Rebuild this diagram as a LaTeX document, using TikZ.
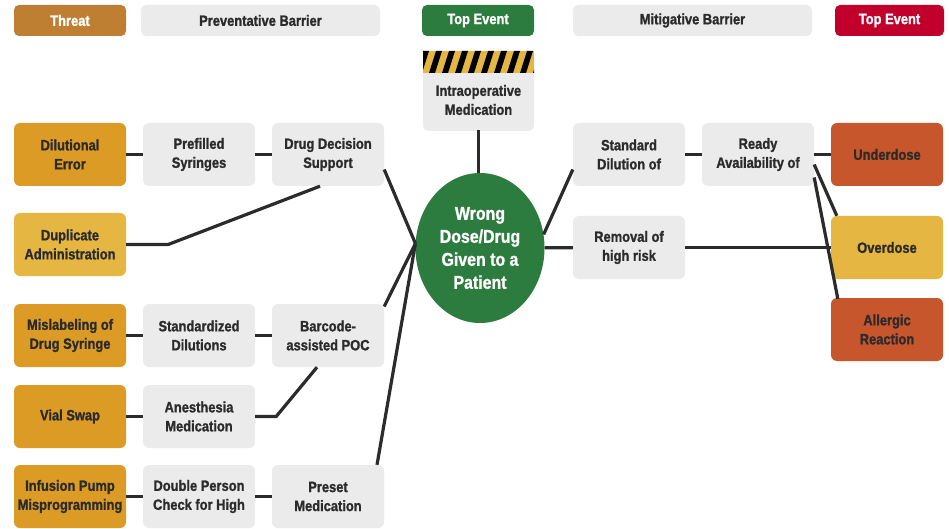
\documentclass[tikz,border=0pt]{standalone}
\usepackage{fontspec}
\setmainfont{Liberation Sans}[FakeStretch=0.86, BoldFeatures={FakeBold=1.2}]
\usetikzlibrary{shapes.geometric,calc}
\definecolor{txt}{HTML}{2B2B2B}
\definecolor{gbox}{HTML}{EBEBEB}
\definecolor{thro}{HTML}{DB9B25}
\definecolor{thry}{HTML}{E5B742}
\definecolor{hthreat}{HTML}{BF7F33}
\definecolor{tgreen}{HTML}{2D7C3F}
\definecolor{hred}{HTML}{C1002B}
\definecolor{outr}{HTML}{C8562C}
\definecolor{stripey}{HTML}{E6B645}
\definecolor{lnc}{HTML}{2B2B2B}
\tikzset{
  boxbase/.style={rectangle, rounded corners=6pt, minimum width=112pt, minimum height=63pt,
    inner sep=0pt, align=center, font=\bfseries\fontsize{15}{19}\selectfont, text=txt},
  barrierbox/.style={boxbase, fill=gbox},
  threatbox/.style={boxbase, fill=thro},
  threatyel/.style={boxbase, fill=thry},
  outbox/.style={boxbase, fill=outr},
  hdrbox/.style={rectangle, rounded corners=5pt, minimum height=31pt, inner sep=0pt,
    font=\bfseries\fontsize{15}{17}\selectfont},
  conn/.style={draw=lnc, line width=3.2pt}
}
\begin{document}
\begin{tikzpicture}[x=1pt,y=-1pt]
\useasboundingbox (0,0) rectangle (949,529);
% header
\node[hdrbox, fill=hthreat, text=white, minimum width=112pt] (hT) at (70,20.5) {Threat};
\node[hdrbox, fill=gbox, text=txt, minimum width=239pt] (hP) at (260.5,20.5) {Preventative Barrier};
\node[hdrbox, fill=tgreen, text=white, minimum width=112pt] (hE) at (478,20.5) {Top Event};
\node[hdrbox, fill=gbox, text=txt, minimum width=239pt] (hM) at (692.5,20.5) {Mitigative Barrier};
\node[hdrbox, fill=hred, text=white, minimum width=109pt] (hR) at (889.5,20.5) {Top Event};
% threats
\node[threatbox] (dil) at (70,154.5) {Dilutional\\Error};
\node[threatyel] (dup) at (70,244.5) {Duplicate\\Administration};
\node[threatbox] (mis) at (70,335.5) {Mislabeling of\\Drug Syringe};
\node[threatbox] (vial) at (70,416.5) {Vial Swap};
\node[threatbox] (inf) at (70,496.5) {Infusion Pump\\Misprogramming};
% preventative barriers
\node[barrierbox] (pref) at (199,154.5) {Prefilled\\Syringes};
\node[barrierbox] (dds) at (328,154.5) {Drug Decision\\Support};
\node[barrierbox] (std) at (199,335.5) {Standardized\\Dilutions};
\node[barrierbox] (bar) at (328,335.5) {Barcode-\\assisted POC};
\node[barrierbox] (anes) at (199,416.5) {Anesthesia\\Medication};
\node[barrierbox] (dbl) at (199,496.5) {Double Person\\Check for High};
\node[barrierbox] (pre) at (328,496.5) {Preset\\Medication};
% intraoperative hazard box
\fill[gbox, rounded corners=6pt] (423,51) rectangle (534,131);
\begin{scope}
  \clip (423,51) rectangle (534,73);
  \fill[stripey] (423,51) rectangle (534,73);
  \foreach \i in {0,...,9} {
    \fill[black] (416+13*\i,73) -- (422+13*\i,73) -- (429+13*\i,51) -- (423+13*\i,51) -- cycle;
  }
\end{scope}
\node[inner sep=0pt, align=center, font=\bfseries\fontsize{15}{19}\selectfont, text=txt,
  minimum width=111pt, minimum height=60pt] (intra) at (478.5,100) {Intraoperative\\Medication};
% top event
\node[ellipse, fill=tgreen, minimum width=129pt, minimum height=150pt, inner sep=0pt,
  text=white, align=center, font=\bfseries\fontsize{18.5}{23}\selectfont] (top) at (480,248)
  {Wrong\\Dose/Drug\\Given to a\\Patient};
% mitigative barriers
\node[barrierbox] (sdil) at (629,154.5) {Standard\\Dilution of};
\node[barrierbox] (rav) at (758,154.5) {Ready\\Availability of};
\node[barrierbox] (rem) at (629,247.5) {Removal of\\high risk};
% outcomes
\node[outbox] (under) at (887,154.5) {Underdose};
\node[threatyel] (over) at (887,247.5) {Overdose};
\node[outbox] (allg) at (887,329.5) {Allergic\\Reaction};
% connectors
\coordinate (hubL) at (top.176);
\draw[conn] (dil) -- (pref);
\draw[conn] (pref) -- (dds);
\draw[conn] ($(dds.east)+(0,15)$) -- (hubL);
\draw[conn] (dup.east) -- ++(42,0) -- ($(dds.south)+(-8,0)$);
\draw[conn] (mis) -- (std);
\draw[conn] (std) -- (bar);
\draw[conn] ($(bar.east)+(0,-29)$) -- (hubL);
\draw[conn] (vial) -- (anes);
\draw[conn] (anes.east) -- ++(21,0) -- ($(bar.south)+(-11,0)$);
\draw[conn] (inf) -- (dbl);
\draw[conn] (dbl) -- (pre);
\draw[conn] ($(pre.north)+(49,0)$) -- (hubL);
\draw[conn] (intra.south) -- (intra.south |- top.north);
\draw[conn] (top.12) -- ($(sdil.west)+(0,15)$);
\draw[conn] (top) -- (rem);
\draw[conn] (rem) -- (over);
\draw[conn] (sdil) -- (rav);
\draw[conn] (rav) -- (under);
\draw[conn] ($(rav.east)+(0,10)$) -- ($(over.north west)+(6,0)$);
\draw[conn] ($(rav.east)+(0,23)$) -- ($(allg.north west)+(7,1)$);
\end{tikzpicture}
\end{document}
